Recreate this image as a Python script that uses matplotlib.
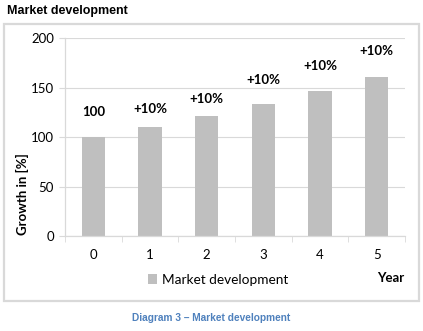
import matplotlib.pyplot as plt
from matplotlib.patches import Rectangle
import numpy as np

years = ['0', '1', '2', '3', '4', '5']
growth = [100, 110, 121, 133.1, 146.41, 161.05]
bar_labels = ['100', '+10%', '+10%', '+10%', '+10%', '+10%']
label_pos = [125, 128, 138, 158, 172, 187]

fig = plt.figure(figsize=(4.23, 3.31), dpi=100)

# outer chart frame
fig.patches.append(Rectangle((0.0095, 0.0906), 0.981, 0.837, transform=fig.transFigure,
                             fill=False, edgecolor='#D9D9D9', linewidth=1.6))

ax = fig.add_axes([0.1537, 0.287, 0.8038, 0.598])
x = np.arange(len(years))
ax.bar(x, growth, width=0.41, color='#BFBFBF', label='Market development', zorder=2)

for i in range(len(years)):
    ax.text(x[i], label_pos[i], bar_labels[i], ha='center', va='center',
            fontsize=9.5, fontweight='bold', family='Lato')

ax.set_xlim(-0.5, 5.5)
ax.set_ylim(0, 200)
ax.set_yticks([0, 50, 100, 150, 200])
ax.set_xticks(x)
ax.set_xticklabels(years)
ax.set_xticks(np.arange(-0.5, 6, 1), minor=True)
ax.tick_params(axis='x', which='major', length=0, pad=9)
ax.tick_params(axis='x', which='minor', length=4, color='#D9D9D9', direction='out')
ax.tick_params(axis='y', length=4, color='#D9D9D9', pad=4)
for lab in ax.get_xticklabels() + ax.get_yticklabels():
    lab.set_family('Lato')
    lab.set_fontsize(9.5)

ax.grid(axis='y', color='#D9D9D9', linewidth=0.8, zorder=0)
ax.set_axisbelow(True)
for s in ['top', 'right']:
    ax.spines[s].set_visible(False)
for s in ['left', 'bottom']:
    ax.spines[s].set_color('#D9D9D9')
    ax.spines[s].set_linewidth(0.9)

fig.text(0.052, 0.414, 'Growth in [%]', rotation=90, ha='center', va='center',
         fontsize=9.5, fontweight='bold', family='Lato')
fig.text(0.955, 0.16, 'Year', ha='right', va='center',
         fontsize=9.5, fontweight='bold', family='Lato')

fig.legend(loc='center', bbox_to_anchor=(0.515, 0.154), frameon=False,
           handlelength=0.7, handleheight=0.7, handletextpad=0.3,
           prop={'family': 'Lato', 'size': 9.8})

fig.text(0.017, 0.984, 'Market development', ha='left', va='top',
         fontsize=9, fontweight='bold', family='Liberation Sans')
fig.text(0.5, 0.04, 'Diagram 3 \u2013 Market development', ha='center', va='center',
         fontsize=7.3, fontweight='bold', family='Liberation Sans', color='#4F81BD')

fig.savefig('out.png', dpi=100)
